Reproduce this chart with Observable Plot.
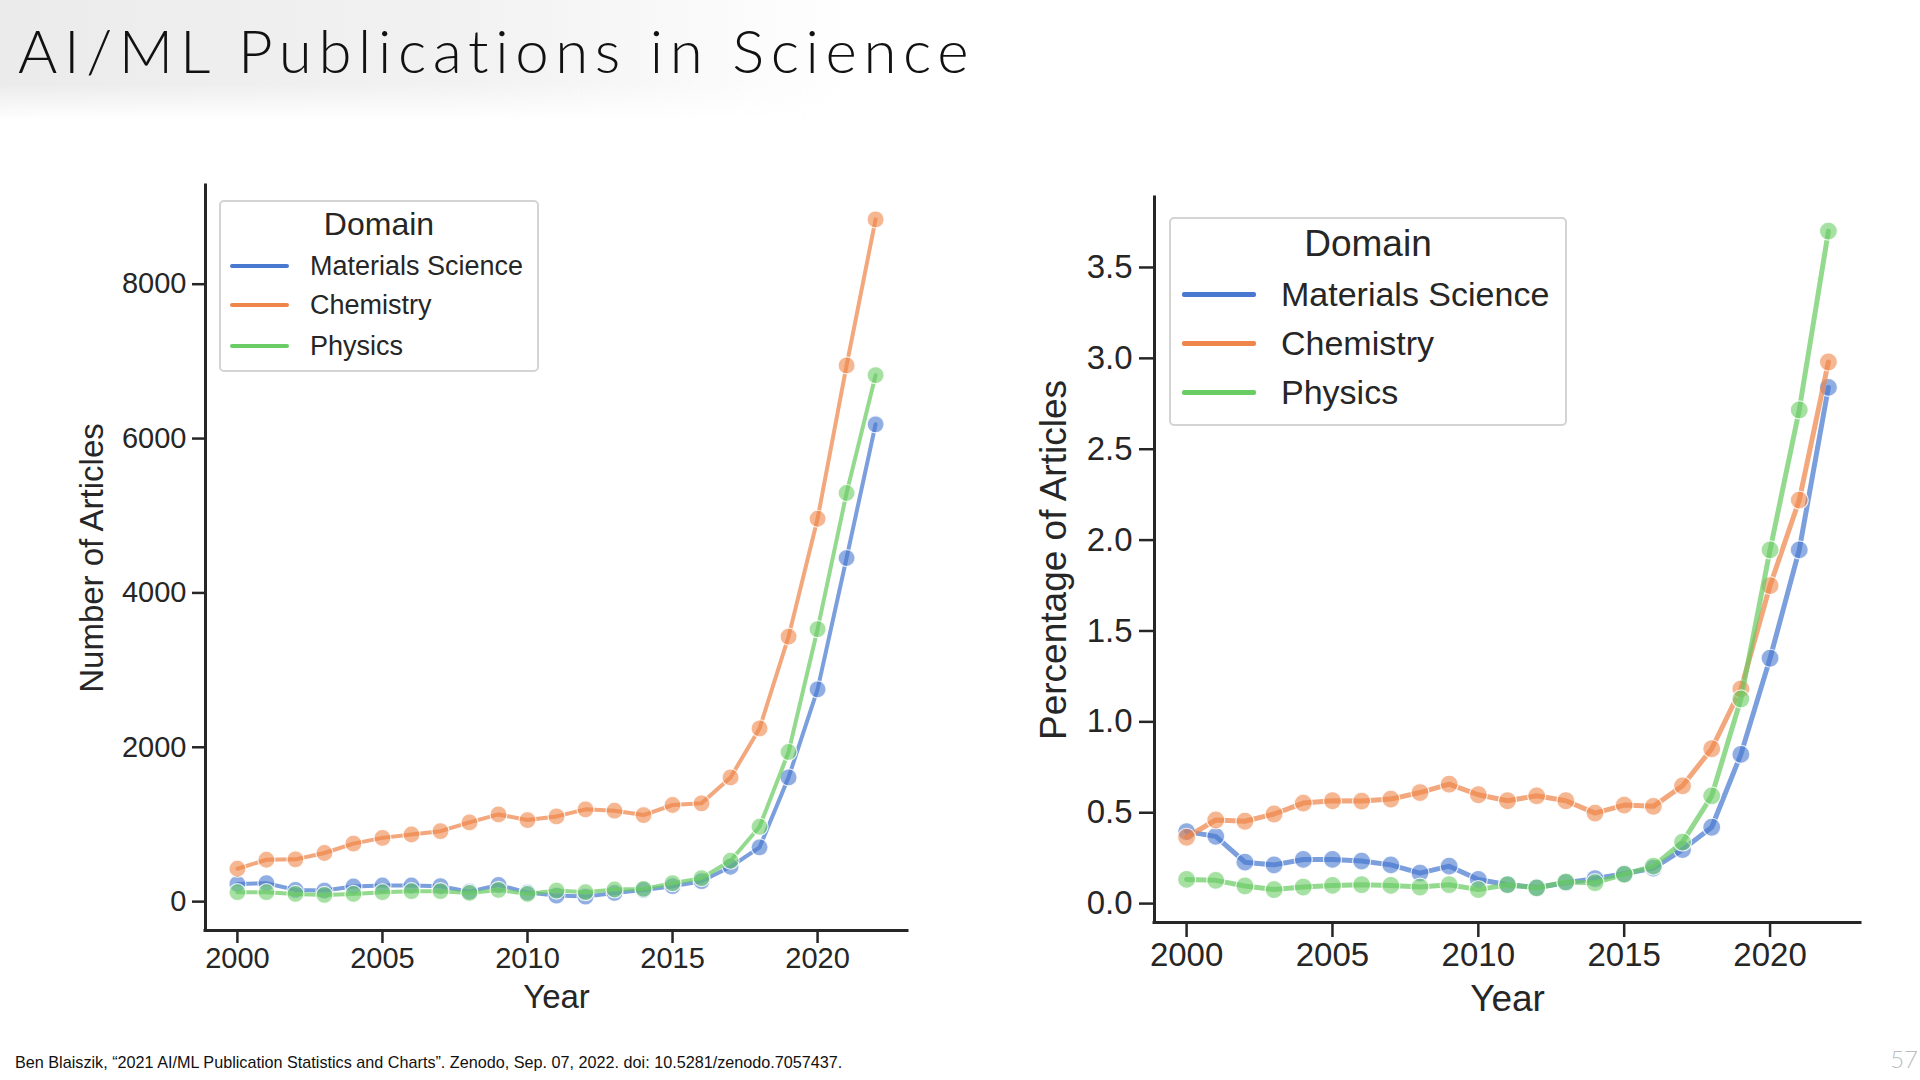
<!DOCTYPE html>
<html>
<head>
<meta charset="utf-8">
<script src="https://cdn.jsdelivr.net/npm/d3@7"></script>
<script src="https://cdn.jsdelivr.net/npm/@observablehq/plot@0.6"></script>
<style>
  html, body { margin: 0; padding: 0; background: #fff; }
  #page { position: relative; width: 1920px; height: 1080px; overflow: hidden; background: #fff; font-family: "Liberation Sans", Arial, sans-serif; color: #262626; }
  #titlebg { position: absolute; left: 0; top: 0; width: 860px; height: 120px;
    background: linear-gradient(to right, #ebebeb 0%, #f2f2f2 55%, rgba(255,255,255,0) 100%);
    -webkit-mask-image: linear-gradient(to bottom, #000 70%, rgba(0,0,0,0) 100%);
    mask-image: linear-gradient(to bottom, #000 70%, rgba(0,0,0,0) 100%); }
  #title { position: absolute; left: 18px; top: 14px; font-family: Lato, "Open Sans", sans-serif; font-weight: 300; font-size: 60px; letter-spacing: 6.6px; color: #111; white-space: nowrap; }
  .chart { position: absolute; }
  .legend { position: absolute; background: #fff; border: 2px solid #d4d4d4; border-radius: 5px; box-sizing: border-box; }
  .legend .lt { position: absolute; left: 0; right: 0; text-align: center; transform: translateY(-50%); white-space: nowrap; }
  .legend .sw { position: absolute; border-radius: 2px; }
  .legend .lab { position: absolute; white-space: nowrap; transform: translateY(-50%); }
  #footer { position: absolute; left: 15px; top: 1053px; font-size: 16.2px; color: #111; white-space: nowrap; }
  #pnum { position: absolute; right: 2px; top: 1044px; font-size: 24px; color: #bdbdbd; font-family: Lato, sans-serif; font-weight: 300; }
</style>
</head>
<body>
<div id="page">
  <div id="titlebg"></div>
  <div id="title">AI/ML Publications in Science</div>
  <div id="left" class="chart" style="left:0px; top:150px;"></div>
  <div id="right" class="chart" style="left:940px; top:150px;"></div>
  <div id="footer">Ben Blaiszik, “2021 AI/ML Publication Statistics and Charts”. Zenodo, Sep. 07, 2022. doi: 10.5281/zenodo.7057437.</div>
  <div id="pnum">57</div>
</div>
<script>
// ---------------- data ----------------
const years = [2000,2001,2002,2003,2004,2005,2006,2007,2008,2009,2010,2011,2012,2013,2014,2015,2016,2017,2018,2019,2020,2021,2022];
const series = ["Materials Science", "Chemistry", "Physics"];
const seriesColors = ["#4878d0", "#ee854a", "#6acc64"];

const countMaterials = [230,239,152,143,196,209,209,200,130,217,117,78,65,113,152,200,265,452,704,1610,2751,4452,6185];
const countChemistry = [426,543,548,630,752,826,870,913,1026,1130,1057,1104,1196,1178,1122,1252,1274,1609,2244,3434,4961,6948,8840];
const countPhysics   = [122,122,100,87,100,122,135,135,113,152,100,143,122,157,165,239,304,530,970,1939,3530,5295,6821];

const pctMaterials = [0.396,0.370,0.228,0.213,0.243,0.243,0.234,0.213,0.168,0.206,0.133,0.104,0.088,0.115,0.137,0.164,0.195,0.297,0.420,0.821,1.35,1.946,2.84];
const pctChemistry = [0.365,0.460,0.453,0.493,0.553,0.566,0.564,0.575,0.611,0.657,0.599,0.566,0.593,0.566,0.498,0.542,0.535,0.648,0.852,1.181,1.75,2.22,2.98];
const pctPhysics   = [0.133,0.128,0.097,0.077,0.091,0.100,0.104,0.100,0.091,0.104,0.077,0.104,0.086,0.119,0.115,0.161,0.206,0.338,0.593,1.126,1.946,2.716,3.70];

const xTicks = [2000, 2005, 2010, 2015, 2020];
const countTicks = [0, 2000, 4000, 6000, 8000];
const pctTicks = [0.0, 0.5, 1.0, 1.5, 2.0, 2.5, 3.0, 3.5];
const legendTitle = "Domain";
const xLabel = "Year";
const countLabel = "Number of Articles";
const pctLabel = "Percentage of Articles";

// ---------------- helpers ----------------
function toRows(arrs) {
  const rows = [];
  series.forEach((s, i) => years.forEach((y, j) => rows.push({domain: s, year: y, value: arrs[i][j]})));
  return rows;
}
const xDomain = [1998.9, 2023.1];
const ink = "#262626";

function chart(o) {
  const rows = toRows(o.values);
  const marks = [
    Plot.ruleX([xDomain[0]], {stroke: ink, strokeWidth: o.spine, strokeLinecap: "square"}),
    Plot.ruleY([o.yDomain[0]], {stroke: ink, strokeWidth: o.spine, strokeLinecap: "square"}),
    Plot.axisX({ticks: xTicks, tickFormat: "d", tickSize: o.tick, tickPadding: o.xPad, fontSize: o.tickFont, strokeWidth: o.tickW, stroke: ink, label: null}),
    Plot.axisY({ticks: o.yTicks, tickFormat: o.yFormat, tickSize: o.tick, tickPadding: o.yPad, fontSize: o.tickFont, strokeWidth: o.tickW, stroke: ink, label: null})
  ];
  series.forEach(s => {
    const d = rows.filter(r => r.domain === s);
    marks.push(Plot.line(d, {x: "year", y: "value", stroke: "domain", strokeWidth: o.lineW, strokeOpacity: 0.72, strokeLinejoin: "round", strokeLinecap: "round"}));
    marks.push(Plot.dot(d, {x: "year", y: "value", fill: "domain", fillOpacity: 0.6, r: o.r, stroke: "white", strokeWidth: 1.2, strokeOpacity: 0.8}));
  });
  marks.push(Plot.text([o.yLabel], {text: d => d, frameAnchor: "left", textAnchor: "middle", lineAnchor: "middle", rotate: -90, dx: o.yLabelDx, fontSize: o.labelFont, fill: ink}));
  marks.push(Plot.text([xLabel], {text: d => d, frameAnchor: "bottom", textAnchor: "middle", lineAnchor: "middle", dy: o.xLabelDy, fontSize: o.labelFont, fill: ink}));
  return Plot.plot({
    width: o.width, height: o.height,
    marginLeft: o.ml, marginRight: o.mr, marginTop: o.mt, marginBottom: o.mb,
    x: {domain: xDomain},
    y: {domain: o.yDomain},
    color: {domain: series, range: seriesColors},
    style: {fontFamily: '"Liberation Sans", Arial, sans-serif', color: ink, background: "transparent", overflow: "visible"},
    marks
  });
}

document.getElementById("left").appendChild(chart({
  values: [countMaterials, countChemistry, countPhysics],
  yDomain: [-374, 9279], yTicks: countTicks, yFormat: "d", yLabel: countLabel,
  width: 940, height: 900, ml: 205, mr: 33, mt: 35, mb: 120,
  spine: 3, tick: 13, tickW: 2.5, xPad: 4, yPad: 6, tickFont: 29, labelFont: 33,
  lineW: 4, r: 8.5, yLabelDx: -113, xLabelDy: 67
}));

document.getElementById("right").appendChild(chart({
  values: [pctMaterials, pctChemistry, pctPhysics],
  yDomain: [-0.104, 3.885], yTicks: pctTicks, yFormat: ".1f", yLabel: pctLabel,
  width: 980, height: 900, ml: 214, mr: 60, mt: 47, mb: 128,
  spine: 3, tick: 15, tickW: 2.5, xPad: 5, yPad: 7, tickFont: 33, labelFont: 37,
  lineW: 5, r: 9, yLabelDx: -100, xLabelDy: 77
}));

// ---------------- legends ----------------
function legend(o) {
  const box = document.createElement("div");
  box.className = "legend";
  Object.assign(box.style, {left: o.left + "px", top: o.top + "px", width: o.w + "px", height: o.h + "px"});
  const t = document.createElement("div");
  t.className = "lt"; t.textContent = legendTitle;
  Object.assign(t.style, {top: o.titleY + "px", fontSize: o.titleFont + "px"});
  box.appendChild(t);
  series.forEach((s, i) => {
    const sw = document.createElement("div");
    sw.className = "sw";
    Object.assign(sw.style, {left: o.swX + "px", width: o.swW + "px", height: o.swH + "px", top: (o.rows[i] - o.swH / 2) + "px", background: seriesColors[i]});
    const lab = document.createElement("div");
    lab.className = "lab"; lab.textContent = s;
    Object.assign(lab.style, {left: o.labX + "px", top: o.rows[i] + "px", fontSize: o.font + "px"});
    box.appendChild(sw); box.appendChild(lab);
  });
  document.getElementById("page").appendChild(box);
}
legend({left: 219, top: 200, w: 320, h: 172, titleY: 22, titleFont: 32, swX: 9, swW: 59, swH: 4, labX: 89, font: 27, rows: [64, 103, 144]});
legend({left: 1169, top: 217, w: 398, h: 209, titleY: 25, titleFont: 37, swX: 11, swW: 74, swH: 5, labX: 110, font: 34, rows: [75, 124, 173]});
</script>
</body>
</html>
